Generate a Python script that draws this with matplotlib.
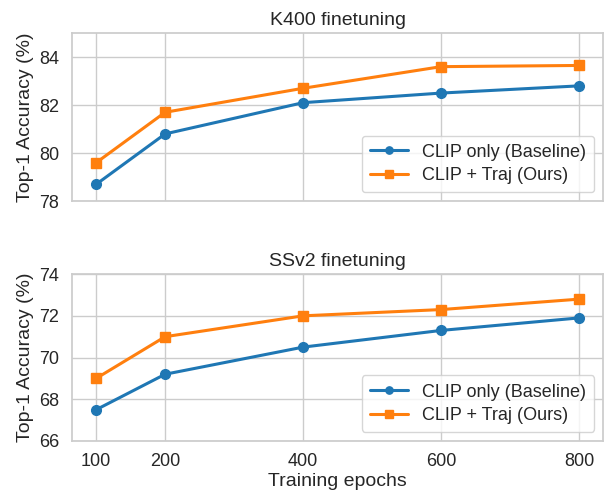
import matplotlib
matplotlib.use("Agg")
import matplotlib.pyplot as plt
import seaborn as sns

epochs = [100, 200, 400, 600, 800]
k400_baseline = [78.7, 80.8, 82.1, 82.5, 82.8]
k400_ours = [79.6, 81.7, 82.7, 83.6, 83.65]
ssv2_baseline = [67.5, 69.2, 70.5, 71.3, 71.9]
ssv2_ours = [69.0, 71.0, 72.0, 72.3, 72.8]
xticks = [100, 200, 400, 600, 800]
label_base = "CLIP only (Baseline)"
label_ours = "CLIP + Traj (Ours)"

sns.set_theme(style="whitegrid")
plt.rcParams['font.family'] = ['Arial', 'Liberation Sans', 'DejaVu Sans']

fig = plt.figure(figsize=(6.05, 4.93), dpi=100)
ax1 = fig.add_axes([0.119, 0.592, 0.878, 0.341])
ax2 = fig.add_axes([0.119, 0.1055, 0.878, 0.3385])

c1 = "#1f77b4"
c2 = "#ff7f0e"

def draw(ax, base, ours, title, ylim, yticks):
    ax.plot(epochs, base, color=c1, marker='o', lw=2.2, ms=7, label=label_base)
    ax.plot(epochs, ours, color=c2, marker='s', lw=2.2, ms=7, label=label_ours)
    ax.set_xlim(65, 835)
    ax.set_ylim(*ylim)
    ax.set_yticks(yticks)
    ax.set_xticks(xticks)
    ax.set_title(title, fontsize=14, color='#262626', pad=6)
    ax.set_ylabel("Top-1 Accuracy (%)", fontsize=14, color='#262626', labelpad=4)
    ax.tick_params(axis='both', labelsize=13, colors='#262626', pad=3)
    leg = ax.legend(loc='lower right', fontsize=13, frameon=True, borderpad=0.45,
                    handlelength=2.1, labelspacing=0.35, markerscale=0.75)
    for t in leg.get_texts():
        t.set_color('#262626')
    for s in ax.spines.values():
        s.set_color('#cccccc')

draw(ax1, k400_baseline, k400_ours, "K400 finetuning", (78, 85), [78, 80, 82, 84])
draw(ax2, ssv2_baseline, ssv2_ours, "SSv2 finetuning", (66, 74), [66, 68, 70, 72, 74])
ax1.set_xticklabels([])
ax2.set_xlabel("Training epochs", fontsize=14, color='#262626', labelpad=2)

fig.savefig("out.png", dpi=100)
